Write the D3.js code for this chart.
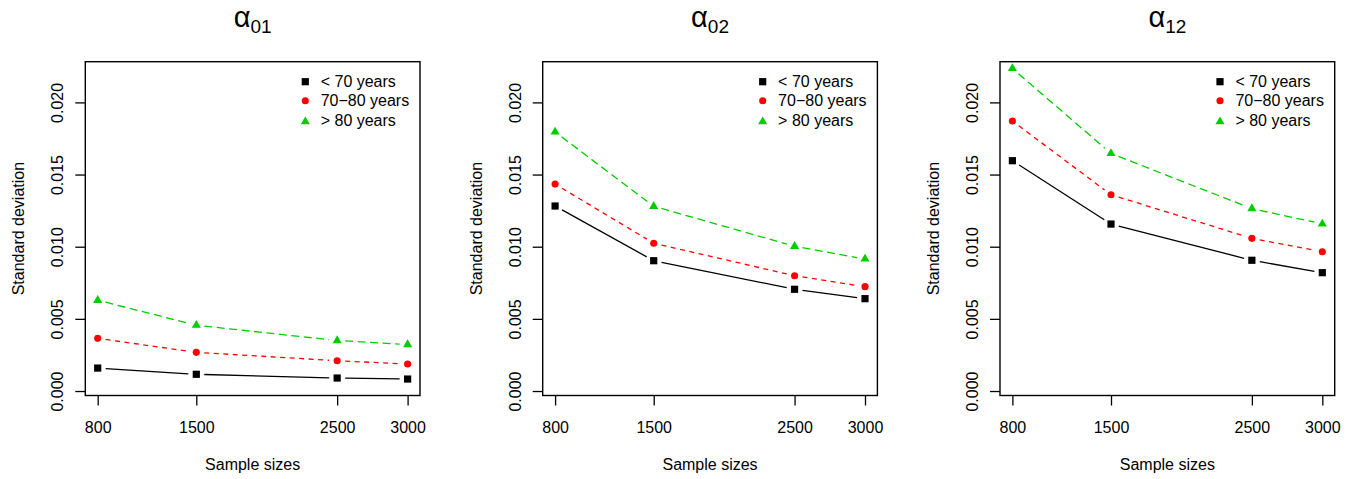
<!DOCTYPE html>
<html>
<head>
<meta charset="utf-8">
<script src="https://cdn.jsdelivr.net/npm/d3@7"></script>
<style>
  html, body { margin: 0; padding: 0; background: #fff; }
  svg text { font-family: "Liberation Sans", Arial, Helvetica, sans-serif; fill: #000; }
</style>
</head>
<body>
<svg id="chart" width="1359" height="479"></svg>
<script>
// ---- data ----
const sampleSizes = [800, 1500, 2500, 3000];
const xTickLabels = ["800", "1500", "2500", "3000"];
const yTicks = [0, 0.005, 0.010, 0.015, 0.020];
const yTickLabels = ["0.000", "0.005", "0.010", "0.015", "0.020"];
const panelTitles = ["01", "02", "12"];
const seriesNames = ["< 70 years", "70\u221280 years", "> 80 years"];

// alpha01
const a01_lt70 = [0.00159, 0.00116, 0.00090, 0.00083];
const a01_7080 = [0.00365, 0.00268, 0.00210, 0.00187];
const a01_gt80 = [0.00629, 0.00456, 0.00350, 0.00322];
// alpha02
const a02_lt70 = [0.01282, 0.00903, 0.00705, 0.00640];
const a02_7080 = [0.01434, 0.01024, 0.00799, 0.00723];
const a02_gt80 = [0.01795, 0.01280, 0.01003, 0.00915];
// alpha12
const a12_lt70 = [0.01596, 0.01157, 0.00906, 0.00820];
const a12_7080 = [0.01871, 0.01360, 0.01058, 0.00965];
const a12_gt80 = [0.02235, 0.01646, 0.01264, 0.01158];

const panels = [
  { sub: panelTitles[0], series: [a01_lt70, a01_7080, a01_gt80] },
  { sub: panelTitles[1], series: [a02_lt70, a02_7080, a02_gt80] },
  { sub: panelTitles[2], series: [a12_lt70, a12_7080, a12_gt80] }
];

// ---- styles ----
const colors = ["#000000", "#FF0000", "#00CD00"];
const dashes = [null, "5,4.5", "8,4.5"];
const symbols = [d3.symbolSquare, d3.symbolCircle, d3.symbolTriangle];
const symSizes = [52, 40, 36];

const svg = d3.select("#chart");
const plotW = 334.7, plotTop = 61.7, plotBottom = 395.5;
const lefts = [85.3, 542.7, 1000];
const fs = 16;

panels.forEach((p, pi) => {
  const L = lefts[pi];
  const x = d3.scaleLinear().domain([712, 3088]).range([L, L + plotW]);
  const y = d3.scaleLinear().domain([-0.00031, 0.02282]).range([plotBottom, plotTop]);
  const g = svg.append("g");

  // title
  const t = g.append("text")
    .attr("x", L + plotW / 2)
    .attr("y", 27)
    .attr("text-anchor", "middle");
  t.append("tspan").attr("font-size", 29).text("\u03B1");
  t.append("tspan").attr("font-size", 19).attr("dy", 5.7).text(p.sub);

  // x axis
  const xAxis = d3.axisBottom(x).tickValues(sampleSizes)
    .tickFormat((d, i) => xTickLabels[i]).tickSize(10).tickPadding(0);
  const gx = g.append("g").attr("transform", `translate(0,${plotBottom})`).call(xAxis);
  gx.select(".domain").remove();
  gx.selectAll(".tick line").attr("stroke", "#000").attr("stroke-width", 1.3);
  gx.selectAll(".tick text").attr("font-size", fs).attr("dy", null).attr("y", 37);

  // y axis
  const yAxis = d3.axisLeft(y).tickValues(yTicks)
    .tickFormat((d, i) => yTickLabels[i]).tickSize(10);
  const gy = g.append("g").attr("transform", `translate(${L},0)`).call(yAxis);
  gy.select(".domain").remove();
  gy.selectAll(".tick line").attr("stroke", "#000").attr("stroke-width", 1.3);
  gy.selectAll(".tick text")
    .attr("font-size", fs)
    .attr("x", null).attr("dy", null)
    .attr("text-anchor", "middle")
    .attr("transform", "translate(-22,0) rotate(-90)");

  // box
  g.append("rect")
    .attr("x", L).attr("y", plotTop)
    .attr("width", plotW).attr("height", plotBottom - plotTop)
    .attr("fill", "none").attr("stroke", "#000").attr("stroke-width", 1.4);

  // axis titles
  g.append("text")
    .attr("x", L + plotW / 2).attr("y", 470)
    .attr("text-anchor", "middle").attr("font-size", fs)
    .text("Sample sizes");
  g.append("text")
    .attr("transform", `translate(${L - 61},${(plotTop + plotBottom) / 2}) rotate(-90)`)
    .attr("text-anchor", "middle").attr("font-size", fs)
    .text("Standard deviation");

  // series (type = "b": lines with gaps around points)
  const gap = 8;
  p.series.forEach((vals, si) => {
    const pts = vals.map((v, i) => [x(sampleSizes[i]), y(v)]);
    for (let i = 0; i < pts.length - 1; i++) {
      const [x0, y0] = pts[i], [x1, y1] = pts[i + 1];
      const dx = x1 - x0, dy = y1 - y0, len = Math.hypot(dx, dy);
      if (len <= 2 * gap) continue;
      const ux = dx / len, uy = dy / len;
      const seg = g.append("line")
        .attr("x1", x0 + ux * gap).attr("y1", y0 + uy * gap)
        .attr("x2", x1 - ux * gap).attr("y2", y1 - uy * gap)
        .attr("stroke", colors[si]).attr("stroke-width", 1.3);
      if (dashes[si]) seg.attr("stroke-dasharray", dashes[si]);
    }
    g.selectAll(null).data(pts).enter().append("path")
      .attr("transform", d => `translate(${d[0]},${d[1]})`)
      .attr("d", d3.symbol().type(symbols[si]).size(symSizes[si]))
      .attr("fill", colors[si]);
  });

  // legend
  const legY = [81.7, 100.7, 120.7];
  seriesNames.forEach((name, si) => {
    g.append("path")
      .attr("transform", `translate(${L + 220},${legY[si] + (si === 2 ? 1 : 0)})`)
      .attr("d", d3.symbol().type(symbols[si]).size(symSizes[si]))
      .attr("fill", colors[si]);
    g.append("text")
      .attr("x", L + 235.4).attr("y", legY[si] + 5.7)
      .attr("font-size", fs)
      .text(name);
  });
});
</script>
</body>
</html>
